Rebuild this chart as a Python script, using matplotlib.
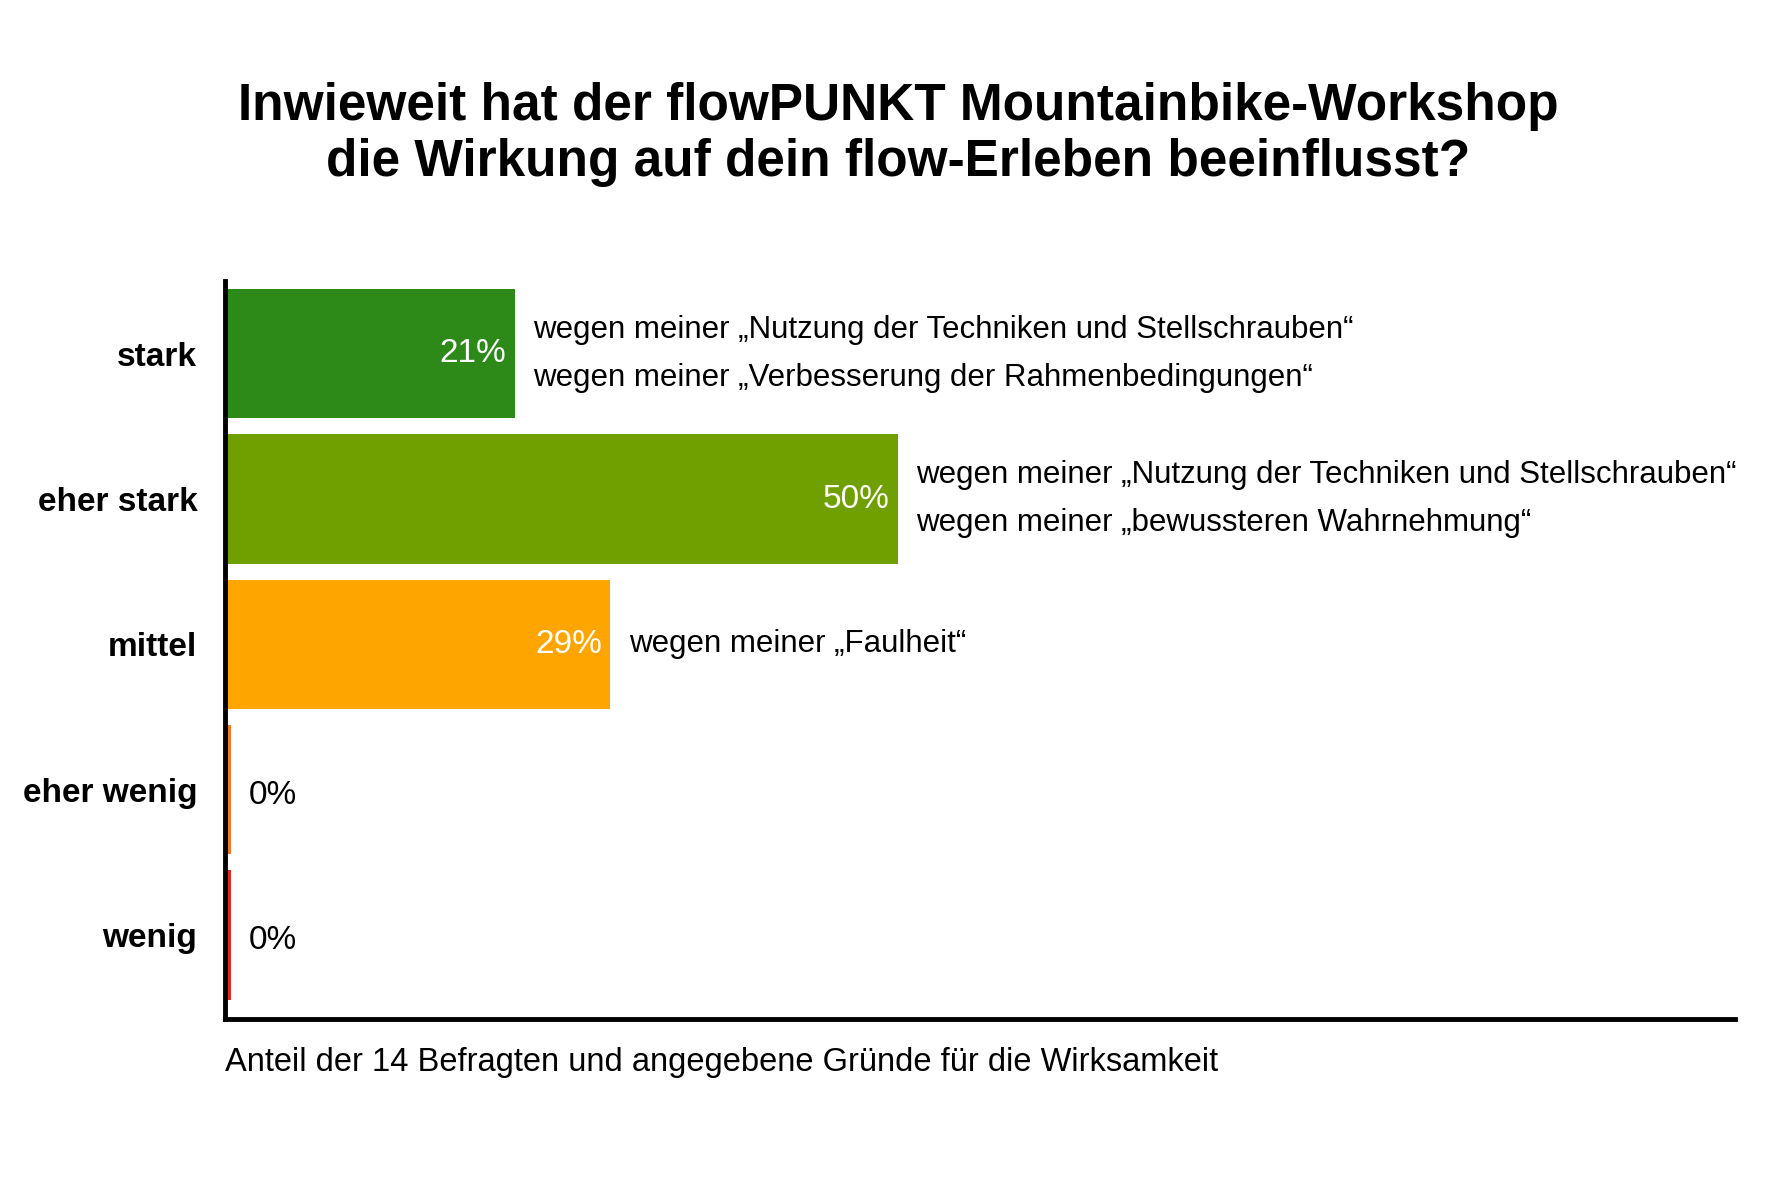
import matplotlib.pyplot as plt

categories = ["stark", "eher stark", "mittel", "eher wenig", "wenig"]
counts = [3, 7, 4, 0, 0]
total = 14
shares = [100 * c / total for c in counts]
pct_labels = ["21%", "50%", "29%", "0%", "0%"]
colors = ["#2e8a18", "#6fa000", "#ffa500", "#f07a28", "#e02a20"]
reasons = [
    ["wegen meiner „Nutzung der Techniken und Stellschrauben“",
     "wegen meiner „Verbesserung der Rahmenbedingungen“"],
    ["wegen meiner „Nutzung der Techniken und Stellschrauben“",
     "wegen meiner „bewussteren Wahrnehmung“"],
    ["wegen meiner „Faulheit“"],
    [],
    [],
]

plt.rcParams["font.family"] = "Liberation Sans"
fig = plt.figure(figsize=(17.72, 11.81), dpi=100)
ax = fig.add_axes([0.127, 0.137, 0.852, 0.625])

y = list(range(len(categories)))
widths = [s if s > 0 else 0.3 for s in shares]
ax.barh(y, widths, height=0.89, color=colors, left=0.15)
ax.set_ylim(len(categories) - 0.42, -0.50)
ax.set_xlim(0, 112.5)

for i, (s, lab, rs) in enumerate(zip(shares, pct_labels, reasons)):
    if s > 0:
        ax.text(s - 0.5, i, lab, ha="right", va="center", color="white", fontsize=24)
        for j, r in enumerate(rs):
            off = (j - (len(rs) - 1) / 2) * 0.33
            ax.text(s + 1.5, i + off, r, ha="left", va="center", fontsize=22.5)
    else:
        ax.text(1.8, i + 0.04, lab, ha="left", va="center", fontsize=24)

ax.set_yticks(y)
ax.set_yticklabels(categories, fontsize=24, fontweight="bold")
ax.tick_params(axis="y", length=0, pad=20)
ax.set_xticks([])
for side in ["top", "right"]:
    ax.spines[side].set_visible(False)
for side in ["left", "bottom"]:
    ax.spines[side].set_linewidth(3.5)
ax.set_xlabel("Anteil der 14 Befragten und angegebene Gründe für die Wirksamkeit",
              fontsize=23.5, loc="left", labelpad=20)

fig.text(0.507, 0.886, "Inwieweit hat der flowPUNKT Mountainbike-Workshop\n"
         "die Wirkung auf dein flow-Erleben beeinflusst?",
         ha="center", va="center", fontsize=37, fontweight="bold", linespacing=1.2)

fig.savefig("out.png", dpi=100, facecolor="white")
